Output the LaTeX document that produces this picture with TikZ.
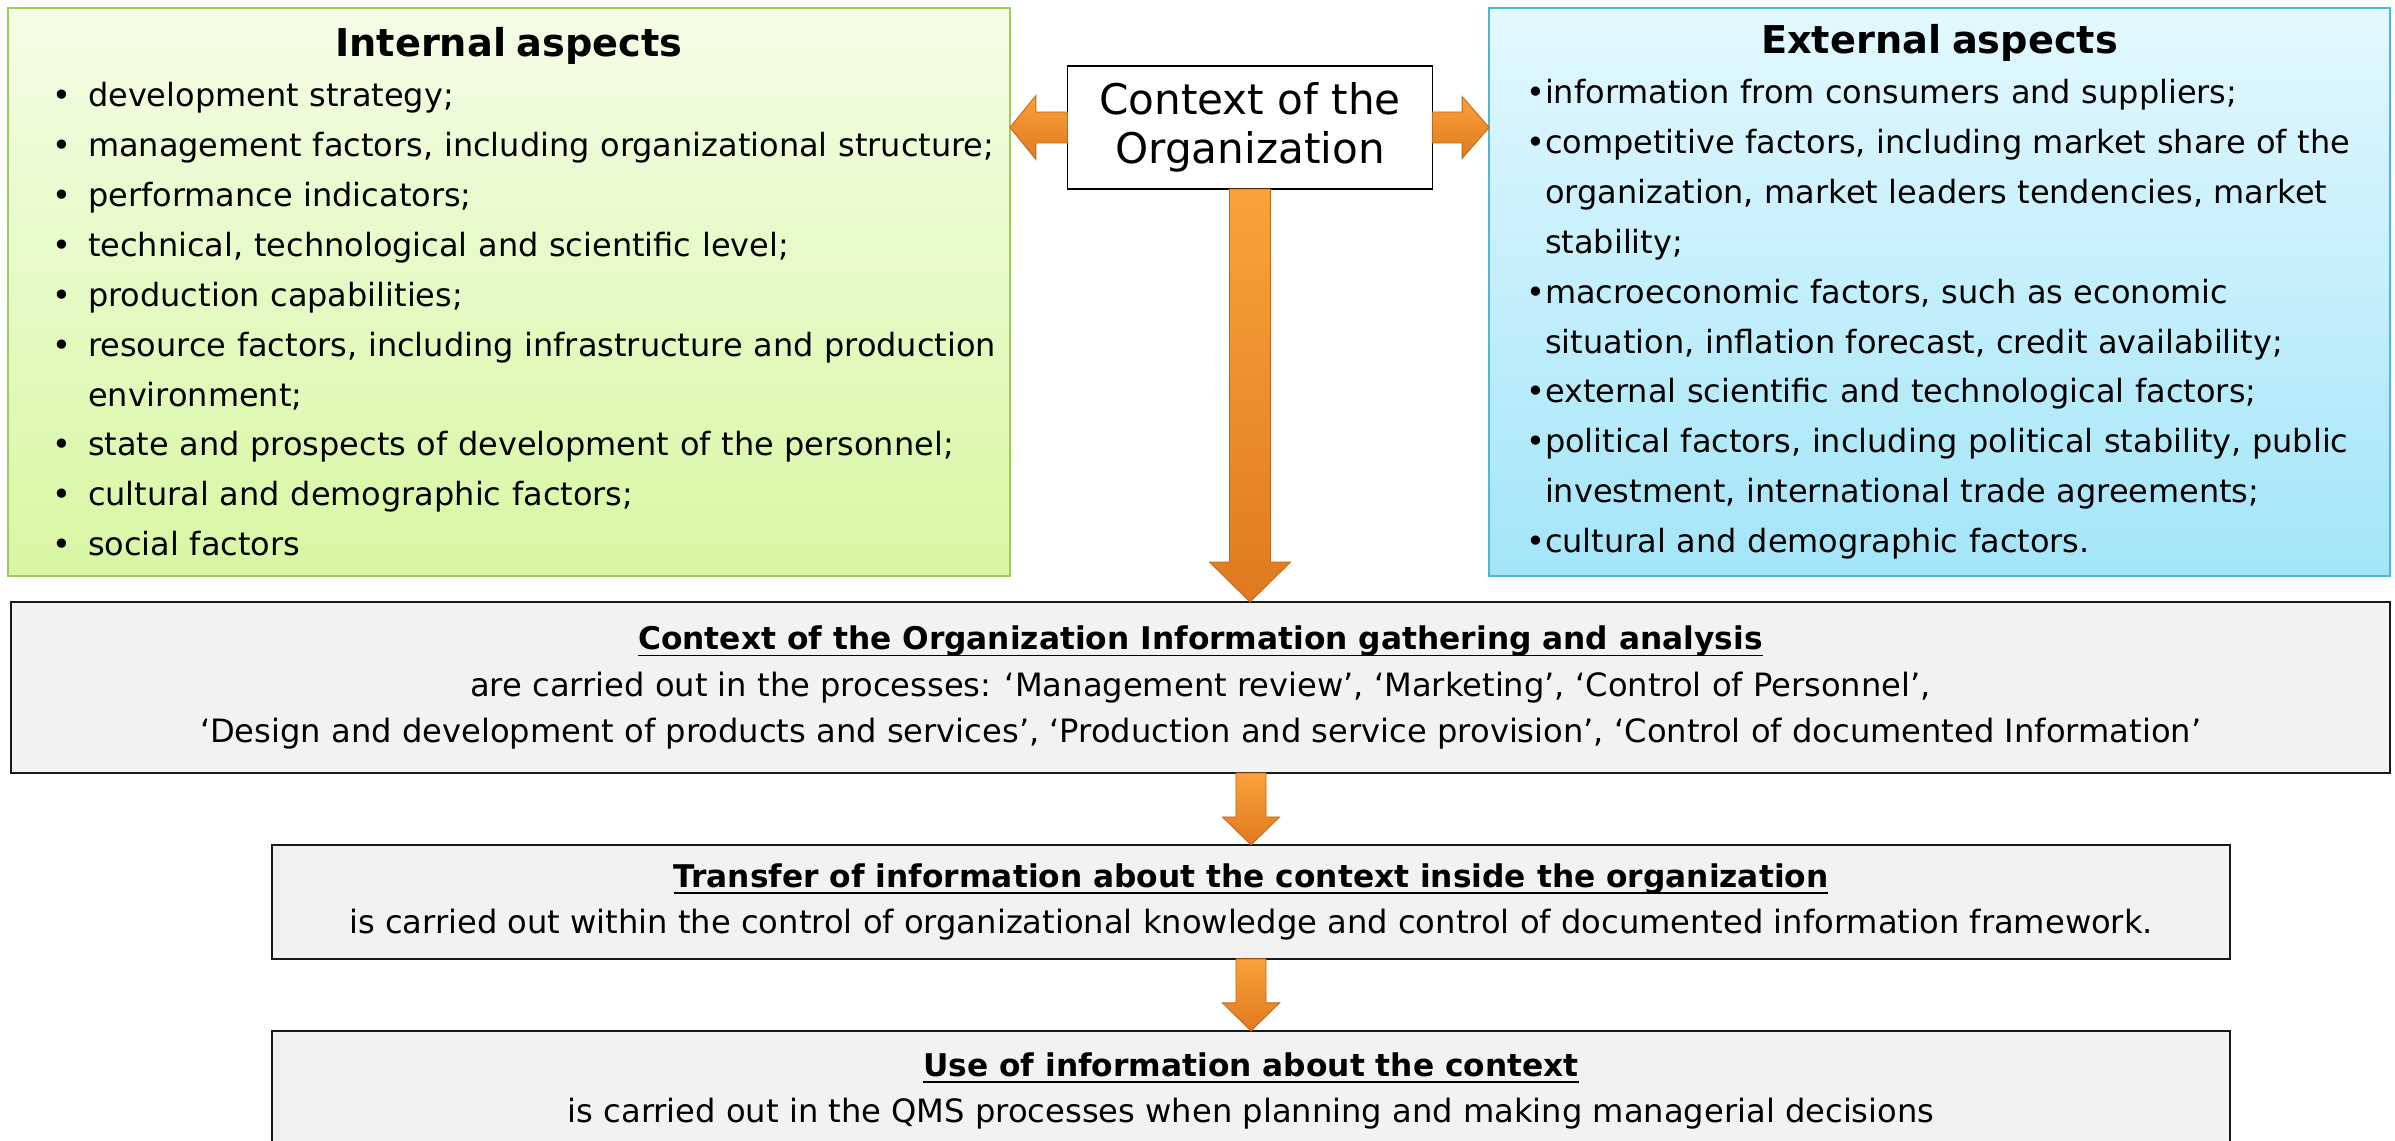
\documentclass[tikz,border=0pt]{standalone}
\usepackage{fontspec}
\setmainfont{DejaVu Sans}
\usetikzlibrary{calc,positioning}

\definecolor{greentop}{HTML}{F4FDE6}
\definecolor{greenbot}{HTML}{D7F7A2}
\definecolor{greenedge}{HTML}{9CCB5B}
\definecolor{bluetop}{HTML}{E3F8FE}
\definecolor{bluebot}{HTML}{A3E5F8}
\definecolor{blueedge}{HTML}{4FB6D8}
\definecolor{greyfill}{HTML}{F2F2F2}
\definecolor{arrowtop}{HTML}{FAA23C}
\definecolor{arrowbot}{HTML}{E0791F}
\definecolor{arrowedge}{HTML}{C2661C}

% list lines
\newcommand{\initem}[1]{\par\noindent\makebox[0.72cm][l]{\textbullet}\mbox{#1}}
\newcommand{\incont}[1]{\par\noindent\hspace*{0.72cm}\mbox{#1}}
\newcommand{\exitem}[1]{\par\noindent\makebox[0.38cm][l]{\textbullet}\mbox{#1}}
\newcommand{\excont}[1]{\par\noindent\hspace*{0.38cm}\mbox{#1}}
\newcommand{\aspecthead}[1]{{\centering\fontsize{21.8}{26}\selectfont\bfseries #1\par}}
\newcommand{\stagehead}[1]{{\fontsize{17.8}{26.5}\selectfont
    \setbox0\hbox{\textbf{#1}}\rlap{\rule[-4pt]{\wd0}{1.1pt}}\box0}}

% block arrows: from, to, shaft half width, head half width, head length
\newcommand{\blockdown}[5]{%
  \path[blockarrow] ($(#1)+(-#3,0)$) -- ($(#2)+(-#3,#5)$) -- ($(#2)+(-#4,#5)$) -- (#2)
    -- ($(#2)+(#4,#5)$) -- ($(#2)+(#3,#5)$) -- ($(#1)+(#3,0)$) -- cycle;}
\newcommand{\blockside}[5]{%
  \path[blockarrow] ($(#1)+(0,#3)$) -- ($(#2)+(#5,#3)$) -- ($(#2)+(#5,#4)$) -- (#2)
    -- ($(#2)+(#5,-#4)$) -- ($(#2)+(#5,-#3)$) -- ($(#1)+(0,-#3)$) -- cycle;}

\begin{document}
\begin{tikzpicture}[x=0.02cm,y=0.02cm,
            every node/.style={inner sep=0pt,outer sep=0pt},
            node distance=1.44cm]
            \tikzstyle{aspect}=[line width=1pt,minimum height=11.36cm,
                font=\fontsize{18.2}{28.4}\selectfont]
            \tikzstyle{internal box}=[aspect,draw=greenedge,top color=greentop,
                bottom color=greenbot,minimum width=20.04cm,text width=18.28cm,inner xsep=0.88cm]
            \tikzstyle{external box}=[aspect,draw=blueedge,top color=bluetop,
                bottom color=bluebot,minimum width=18.02cm,text width=16.54cm,inner xsep=0.74cm]
            \tikzstyle{context box}=[draw,line width=1pt,fill=white,align=center,
                minimum width=7.3cm,minimum height=2.46cm,font=\fontsize{24}{28}\selectfont]
            \tikzstyle{stage}=[draw=black!90,line width=1.1pt,fill=greyfill,align=center,
                font=\fontsize{18.3}{26.5}\selectfont]
            \tikzstyle{blockarrow}=[top color=arrowtop,bottom color=arrowbot,
                draw=arrowedge,line width=0.5pt]

            \fill[white] (0,0) rectangle (2395,1141);
            \useasboundingbox (0,0) rectangle (2395,1141);

            \node[context box] (ctx) at (1250,1013.5) {Context of the\\Organization};

            \node[internal box] (internal) at (509,849) {%
                \aspecthead{Internal aspects}
                \initem{development strategy;}
                \initem{management factors, including organizational structure;}
                \initem{performance indicators;}
                \initem{technical, technological and scientific level;}
                \initem{production capabilities;}
                \initem{resource factors, including infrastructure and production}
                \incont{environment;}
                \initem{state and prospects of development of the personnel;}
                \initem{cultural and demographic factors;}
                \initem{social factors}};

            \node[external box] (external) at (1939.5,849) {%
                \aspecthead{External aspects}
                \exitem{information from consumers and suppliers;}
                \exitem{competitive factors, including market share of the}
                \excont{organization, market leaders tendencies, market}
                \excont{stability;}
                \exitem{macroeconomic factors, such as economic}
                \excont{situation, inflation forecast, credit availability;}
                \exitem{external scientific and technological factors;}
                \exitem{political factors, including political stability, public}
                \excont{investment, international trade agreements;}
                \exitem{cultural and demographic factors.}};

            \node[stage,minimum width=47.58cm,minimum height=3.42cm] (gather) at (1200.5,453.5)
                {\stagehead{Context of the Organization Information gathering and analysis}\\
                 are carried out in the processes: ‘Management review’, ‘Marketing’, ‘Control of Personnel’,\\
                 ‘Design and development of products and services’, ‘Production and service provision’, ‘Control of documented Information’};
            \node[stage,minimum width=39.16cm,minimum height=2.28cm,below=of gather,xshift=1.01cm] (transfer)
                {\stagehead{Transfer of information about the context inside the organization}\\
                 is carried out within the control of organizational knowledge and control of documented information framework.};
            \node[stage,minimum width=39.16cm,minimum height=2.4cm,below=of transfer] (use)
                {\stagehead{Use of information about the context}\\
                 is carried out in the QMS processes when planning and making managerial decisions};

            % arrows out of the context
            \coordinate (left tip) at (ctx.west -| internal.east);
            \coordinate (right tip) at (ctx.east -| external.west);
            \coordinate (down tip) at (ctx.south |- gather.north);
            \blockside{ctx.west}{left tip}{15.5}{32}{26}
            \blockside{ctx.east}{right tip}{15.5}{31}{-27}
            \blockdown{ctx.south}{down tip}{20.5}{40.5}{40}

            % arrows between the stages
            \coordinate (gather out) at (transfer.north |- gather.south);
            \coordinate (transfer out) at (use.north |- transfer.south);
            \blockdown{gather out}{transfer.north}{15}{28.5}{28}
            \blockdown{transfer out}{use.north}{15}{28.5}{28}
\end{tikzpicture}
\end{document}
